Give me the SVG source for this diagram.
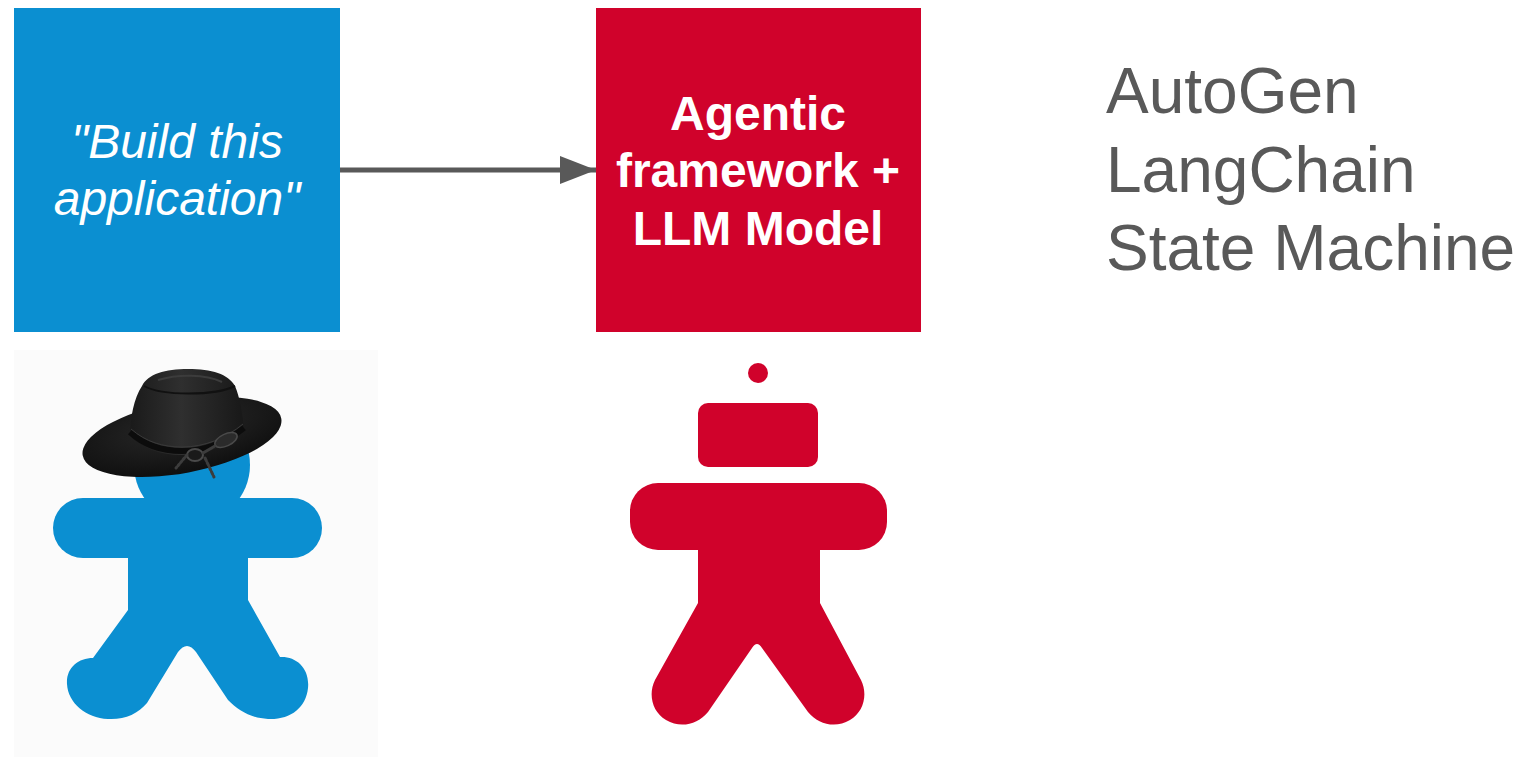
<svg xmlns="http://www.w3.org/2000/svg" width="1521" height="759" viewBox="0 0 1521 759">
  <style>
    .box-text { font-family: "Liberation Sans", Arial, sans-serif; font-size: 48px; fill: #ffffff; text-anchor: middle; }
    .list-text { font-family: "Liberation Sans", Arial, sans-serif; font-size: 64px; fill: #595959; }
    .blue { fill: #0b8fd1; }
    .red { fill: #d0022b; }
    .connector { stroke: #595959; stroke-width: 5; fill: none; }
    .cord { fill: none; stroke: #3c3c3c; stroke-linecap: round; }
  </style>
  <defs>
    <marker id="arrowhead" markerWidth="8" markerHeight="6" refX="7.2" refY="2.8" orient="auto" markerUnits="strokeWidth">
      <polygon points="0,0 7.2,2.8 0,5.6" fill="#595959"/>
    </marker>
    <linearGradient id="crownShade" x1="0" y1="0" x2="1" y2="0">
      <stop offset="0" stop-color="#1a1a1a"/>
      <stop offset="0.45" stop-color="#2f2f2f"/>
      <stop offset="1" stop-color="#181818"/>
    </linearGradient>
    <radialGradient id="brimShade" cx="0.5" cy="0.35" r="0.65">
      <stop offset="0" stop-color="#2a2a2a"/>
      <stop offset="1" stop-color="#0f0f0f"/>
    </radialGradient>
  </defs>

  <rect width="1521" height="759" fill="#ffffff"/>

  <!-- request box -->
  <g id="request">
    <rect class="blue" x="14" y="8" width="326" height="324"/>
    <text class="box-text" font-style="italic" x="177" y="158">"Build this</text>
    <text class="box-text" font-style="italic" x="177" y="215">application"</text>
  </g>

  <!-- framework box -->
  <g id="framework">
    <rect class="red" x="596" y="8" width="325" height="324"/>
    <text class="box-text" font-weight="bold" x="758" y="130">Agentic</text>
    <text class="box-text" font-weight="bold" x="758" y="187">framework +</text>
    <text class="box-text" font-weight="bold" x="758" y="245">LLM Model</text>
  </g>

  <!-- framework list -->
  <g id="frameworks-list">
    <text class="list-text" x="1106" y="113">AutoGen</text>
    <text class="list-text" x="1106" y="192">LangChain</text>
    <text class="list-text" x="1106" y="270">State Machine</text>
  </g>

  <!-- person with hat -->
  <g id="human-figure">
    <rect x="14" y="350" width="364" height="407" fill="#fbfbfb"/>
    <circle class="blue" cx="192" cy="465" r="58"/>
    <rect class="blue" x="53" y="498" width="269" height="60" rx="30"/>
    <path class="blue" d="M128,540 L248,540 L248,600 L280,657 C296,656 310,668 308,688 C306,708 290,720 268,719 C250,718 238,710 228,700 L196,652 Q187,640 178,652 L147,703 C138,714 124,720 108,719 C86,718 68,703 67,684 C66,668 78,658 93,658 L128,610 Z"/>
    <!-- hat -->
    <g id="hat">
      <ellipse cx="182" cy="437" rx="101" ry="36" transform="rotate(-10.6 182 437)" fill="url(#brimShade)"/>
      <path d="M130,436 C130,418 134,398 142,386 C148,374 165,369 188,369 C212,369 228,374 235,386 C240,398 242,412 243,420 L244,432 C225,446 205,455 182,455 C160,455 142,448 130,436 Z" fill="url(#crownShade)"/>
      <path d="M144,386 C162,396 215,396 235,386" stroke="#111111" stroke-width="2" fill="none"/>
      <path d="M158,380 C178,374 205,374 222,382" stroke="#3c3c3c" stroke-width="2" fill="none"/>
      <path d="M130,432 C145,446 162,451 182,451 C205,451 226,442 244,428" stroke="#0c0c0c" stroke-width="6" fill="none"/>
      <path d="M131,429 C146,442 163,447 182,447 C205,447 226,438 243,424" stroke="#3a3a3a" stroke-width="1" fill="none"/>
      <!-- band ornament -->
      <ellipse cx="226" cy="440" rx="12" ry="6" transform="rotate(-25 226 440)" fill="#2b2b2b" stroke="#4a4a4a" stroke-width="1.5"/>
      <ellipse cx="195" cy="455" rx="8" ry="6" fill="#1a1a1a" stroke="#4a4a4a" stroke-width="2"/>
      <path class="cord" d="M187,455 L176,468" stroke-width="3" stroke-dasharray="2 2"/>
      <path class="cord" d="M203,453 L215,446" stroke-width="3"/>
      <path class="cord" d="M205,458 L214,477" stroke-width="3" stroke-dasharray="3 2"/>
    </g>
  </g>

  <!-- robot agent -->
  <g id="agent-figure">
    <circle class="red" cx="758" cy="373" r="10"/>
    <rect class="red" x="698" y="403" width="120" height="64" rx="10"/>
    <rect class="red" x="630" y="483" width="257" height="67" rx="28"/>
    <path class="red" d="M698,540 L820,540 L820,603 L861,680 C868,694 864,712 850,720 C835,729 818,724 808,712 L762,648 Q757,640 752,648 L708,712 C698,724 681,729 666,720 C652,712 648,694 655,680 L698,603 Z"/>
  </g>

  <!-- connectors -->
  <g id="connectors">
    <line class="connector" x1="340" y1="170" x2="596" y2="170" marker-end="url(#arrowhead)"/>
  </g>
</svg>
